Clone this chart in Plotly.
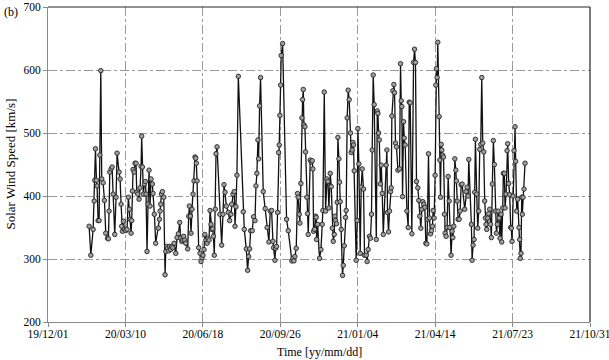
import pandas as pd
import plotly.graph_objects as go

start_date = "2019-12-01"

day_offset = [
    53.1, 55.3, 58.3, 59.6, 60.4, 61.3, 62.6, 63.4, 64.7, 66.0, 66.9, 68.2, 69.4, 71.2, 72.9, 74.6,
    76.8, 78.0, 78.9, 79.8, 81.5, 82.8, 84.1, 86.2, 87.9, 89.2, 91.8, 93.1, 94.4, 95.2, 96.1, 97.4,
    98.7, 100.4, 102.1, 103.8, 105.1, 106.0, 107.3, 108.1, 109.0, 109.9, 111.2, 112.4, 113.7, 114.6,
    115.9, 117.6, 118.9, 120.2, 121.0, 121.9, 123.2, 124.5, 125.8, 126.6, 127.9, 129.2, 130.5, 131.8,
    133.1, 134.8, 135.7, 137.4, 139.1,
    142.6, 143.9, 144.8, 145.6, 146.5, 147.8, 149.5, 151.2, 152.1, 153.4, 154.6, 155.9, 157.2, 158.5,
    159.8, 161.1, 162.8, 165.0, 166.7, 168.4, 170.1, 171.4, 172.7, 174.0, 175.3, 176.6, 177.9, 180.4,
    181.7, 182.6, 183.9, 184.7, 186.0, 187.3, 188.6, 189.9, 190.8, 191.6, 192.5, 194.6, 196.4, 197.6,
    198.9, 200.2, 201.5, 202.4, 204.1, 205.4, 206.7, 208.0, 209.3, 210.5, 211.8, 212.7, 213.6, 214.8,
    216.1, 217.0, 218.3, 222.0, 224.3, 226.0, 227.3, 228.6, 230.3, 232.9, 234.6, 236.3, 237.2, 238.9,
    240.6, 241.5, 242.7, 244.0, 245.8, 252.2, 253.5, 256.1, 257.8, 259.1, 260.4, 261.7, 263.8, 265.5,
    267.3, 268.6, 269.8, 271.1, 272.0, 273.3, 274.5, 278.0, 280.5, 283.0, 285.3, 287.0, 288.8, 290.5,
    291.3, 293.1, 293.9, 295.2, 296.5, 297.8, 298.7, 299.5, 300.4, 301.2, 303.0, 308.1, 310.3, 315.0,
    316.3, 317.6, 318.9, 320.6, 322.3, 323.2, 324.5, 325.3, 326.6, 327.9, 328.8, 329.7, 330.5, 331.8,
    332.6, 334.3, 335.2, 336.1,
    338.7, 340.0, 341.3, 342.1, 343.0, 344.3, 345.6, 346.4, 346.9, 348.2, 350.7, 352.5, 354.2, 355.0,
    356.8, 358.5, 360.2, 361.5, 362.8, 364.5, 365.8, 367.1, 368.4, 369.7, 370.5, 371.4, 372.7, 373.5,
    374.4, 375.7, 376.5, 377.4, 378.7, 380.4, 381.3, 382.6, 384.3, 385.1, 386.4, 387.7, 389.0, 390.7,
    391.6, 392.9, 393.7, 394.6, 395.5, 398.0, 399.3, 400.2, 401.5, 403.2, 404.5, 405.8, 407.5, 408.8,
    411.0, 412.2, 413.5, 415.2, 416.5, 417.8, 418.7, 420.0, 421.3, 424.0, 425.3, 426.1, 427.0, 427.9,
    429.2, 430.4, 431.7, 433.0,
    436.8, 437.7, 438.5, 439.8, 441.1, 442.4, 443.3, 444.1, 445.4, 446.7, 447.6, 448.8, 450.1, 451.9,
    454.0, 455.3, 456.2, 457.0, 457.9, 459.2, 460.0, 461.3, 463.5, 465.2, 466.5, 467.8, 469.9, 472.1,
    473.4, 474.6, 475.9, 477.6, 478.9, 480.2, 481.5, 482.8, 484.1, 485.4, 486.7, 488.0, 489.3, 490.1,
    491.4, 492.7, 494.0, 495.3, 496.6, 497.4, 498.7, 500.0, 500.9, 501.7, 502.6, 503.4, 505.2, 506.0,
    506.9, 507.8, 508.6, 509.5, 510.8, 512.0, 512.9, 514.2, 515.5, 516.8, 518.1, 518.9, 520.6, 521.9,
    522.8, 524.1, 525.4, 526.7, 527.5, 528.4, 529.7, 531.0, 532.3, 533.6, 534.8,
    538.2, 540.0, 541.3, 542.5, 543.4, 546.8, 547.7, 549.0, 550.3, 551.1, 552.0, 553.7, 555.0, 556.3,
    557.6, 558.9, 560.2, 561.5, 562.8, 564.0, 564.9, 565.8, 566.6, 567.9, 569.2, 570.5, 571.4, 572.6,
    573.9, 575.2, 576.5, 577.8, 579.1, 580.4, 581.2, 582.5, 583.8, 585.1, 586.0, 587.3, 588.1, 589.4,
    590.3, 591.6, 592.9, 593.7, 595.0, 596.3, 597.6, 598.4, 599.3, 600.6, 601.9, 603.2, 604.0, 605.3,
    606.6, 608.3, 609.2, 610.0, 610.9, 611.8, 612.6, 613.5, 614.8, 616.1,
]

speed = [
    352, 306, 347, 392, 425, 475, 425, 416, 361, 361, 465, 599, 427, 421, 393, 341,
    333, 332, 376, 438, 443, 446, 403, 339, 398, 468, 438, 427, 387, 352, 344, 360,
    347, 345, 347, 398, 379, 363, 341, 361, 408, 442, 438, 452, 452, 406,
    403, 395, 413, 447, 495, 446, 403, 419, 423, 403, 312, 387, 441, 384,
    427, 419, 404, 371, 325,
    349, 363, 376, 387, 403, 407, 398, 275, 312, 320, 317, 313, 320, 315,
    320, 318, 325, 309, 334, 340, 358, 333, 328, 330, 336, 330, 325, 316,
    368, 384, 368, 341, 379, 403, 424, 462, 460, 452, 424, 318, 309, 296,
    302, 306, 315, 339, 330, 325, 333, 330, 377, 355, 347, 348, 336, 306,
    379, 467, 478, 371, 322, 371, 418, 406, 384, 374, 361, 371, 387, 403,
    407, 352, 383, 433, 590, 375, 347, 316, 282, 304, 316, 345, 345, 367,
    361, 416, 436, 489, 459, 543, 588, 407, 380, 350, 327, 376, 377, 328,
    318, 298, 317, 320, 374, 469, 481, 528, 576, 623, 642, 363, 345, 297,
    301, 297, 304, 317, 404, 398, 371, 357, 420, 524, 553, 569, 513, 510,
    470, 398, 372, 339,
    457, 454, 456, 443, 344, 347, 368, 366, 331, 355, 301, 315, 355, 377,
    565, 376, 427, 423, 381, 436, 415, 349, 328, 339, 368, 361, 356, 390,
    493, 459, 422, 391, 347, 274, 290, 321, 366, 377, 524, 568, 553, 500,
    469, 473, 485, 481, 440, 298, 361, 507, 451, 309, 414, 443, 411, 306,
    306, 296, 315, 336, 333, 371, 473, 592, 545, 331, 535, 531, 500, 489,
    419, 449, 404, 339,
    449, 473, 374, 343, 376, 407, 413, 527, 567, 577, 564, 484, 478, 441,
    443, 610, 551, 542, 399, 518, 492, 481, 376, 350, 549, 548, 340, 612,
    633, 612, 423, 413, 393, 368, 349, 379, 391, 387, 382, 325, 324, 363,
    467, 365, 340, 345, 352, 377, 365, 433, 576, 602, 588, 644, 526, 457,
    398, 482, 473, 465, 462, 371, 341, 336, 350, 431, 392, 350, 306, 344,
    334, 352, 459, 441, 424, 392, 363, 363, 376, 418, 419,
    379, 407, 414, 400, 458, 355, 298, 322, 331, 406, 490, 403, 349, 376,
    474, 482, 588, 484, 470, 392, 365, 355, 347, 365, 372, 379, 355, 334,
    419, 488, 450, 376, 341, 355, 376, 365, 333, 371, 327, 381, 436, 436,
    381, 403, 472, 483, 420, 402, 350, 349, 328, 400, 472, 510, 455, 376,
    395, 350, 331, 301, 309, 398, 371, 398, 411, 452,
]

x_tick_labels = ["19/12/01", "20/03/10", "20/06/18", "20/09/26",
                 "21/01/04", "21/04/14", "21/07/23", "21/10/31"]

dates = pd.Timestamp(start_date) + pd.to_timedelta(day_offset, unit="D")
tick_dates = pd.to_datetime(["20" + t.replace("/", "-") for t in x_tick_labels])

font_family = "Liberation Serif"

fig = go.Figure()
fig.add_trace(go.Scatter(
    x=dates, y=speed, mode="lines+markers",
    line=dict(color="#111111", width=1.3),
    marker=dict(symbol="circle", size=4.5, color="#a0a0a0",
                line=dict(color="#222222", width=0.9)),
    showlegend=False,
))

fig.update_layout(
    width=609, height=360,
    margin=dict(l=48, r=19, t=7, b=38),
    paper_bgcolor="white", plot_bgcolor="white",
    font=dict(family=font_family, size=12, color="black"),
    xaxis=dict(
        type="date",
        range=[tick_dates[0], tick_dates[-1]],
        tickvals=tick_dates, ticktext=x_tick_labels,
        showgrid=True, gridcolor="#9a9a9a", griddash="dashdot", gridwidth=1,
        showline=True, linecolor="#8a8a8a", linewidth=1,
        ticks="outside", ticklen=4, tickcolor="#8a8a8a",
        ticklabelstandoff=-3, ticklabeloverflow="allow",
        zeroline=False, automargin=False,
        tickfont=dict(family=font_family, size=11.5),
    ),
    yaxis=dict(
        range=[200, 700],
        tickvals=[200, 300, 400, 500, 600, 700],
        showgrid=True, gridcolor="#9a9a9a", griddash="dashdot", gridwidth=1,
        showline=True, linecolor="#8a8a8a", linewidth=1,
        ticks="outside", ticklen=4, tickcolor="#8a8a8a",
        zeroline=False, automargin=False,
        tickfont=dict(family=font_family, size=11.5),
    ),
    shapes=[
        dict(type="line", xref="paper", yref="paper", x0=0, x1=1, y0=1, y1=1,
             line=dict(color="#222222", width=1.2)),
        dict(type="line", xref="paper", yref="paper", x0=1, x1=1, y0=0, y1=1,
             line=dict(color="#222222", width=1.2)),
    ],
    annotations=[
        dict(text="(b)", xref="paper", yref="paper", x=-0.084, y=0.985,
             xanchor="left", yanchor="middle", showarrow=False,
             font=dict(family=font_family, size=12)),
        dict(text="Solar Wind Speed [km/s]", xref="paper", yref="paper",
             x=-0.07, y=0.5, textangle=-90, xanchor="center", yanchor="middle",
             showarrow=False, font=dict(family=font_family, size=13)),
        dict(text="Time [yy/mm/dd]", xref="paper", yref="paper",
             x=0.5, y=-0.095, xanchor="center", yanchor="middle",
             showarrow=False, font=dict(family=font_family, size=12)),
    ],
)

fig.write_html("out.html", config={"displayModeBar": False},
               post_script="document.body.style.margin='0';")
